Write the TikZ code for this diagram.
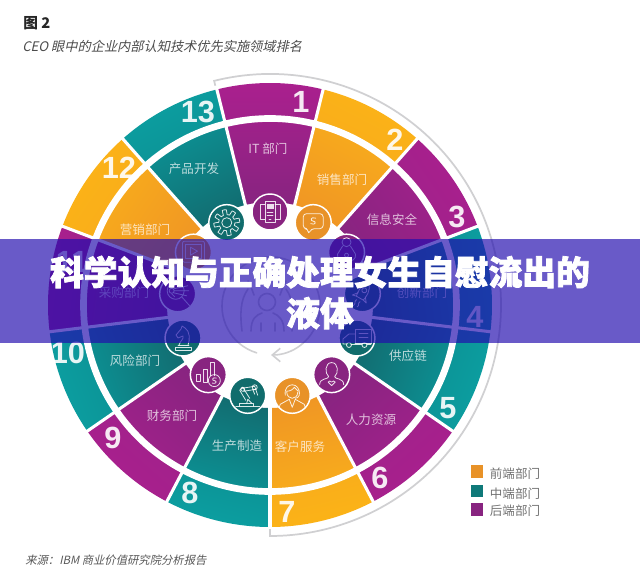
\documentclass[tikz,border=0pt]{standalone}
\usepackage{fontspec}
\usetikzlibrary{arrows.meta}
\newfontfamily\cjk{Noto Sans CJK SC}
\newfontfamily\cjkh[BoldFeatures={FakeBold=2.2}]{Noto Sans CJK SC}
\newfontfamily\cjki[FakeSlant=0.22]{Noto Sans CJK SC}
\newfontfamily\numf{Liberation Sans}
\definecolor{magOut}{RGB}{170,32,142}
\definecolor{magMid}{RGB}{160,33,138}
\definecolor{magIn}{RGB}{135,36,128}
\definecolor{magIc}{RGB}{136,36,128}
\definecolor{ambOut}{RGB}{252,180,22}
\definecolor{ambMid}{RGB}{248,172,28}
\definecolor{ambIn}{RGB}{240,150,36}
\definecolor{ambIc}{RGB}{232,146,40}
\definecolor{teaOut}{RGB}{12,160,162}
\definecolor{teaMid}{RGB}{12,145,148}
\definecolor{teaIn}{RGB}{18,108,112}
\definecolor{teaIc}{RGB}{16,108,108}
\definecolor{bannerc}{RGB}{34,12,174}
\definecolor{ringg}{RGB}{208,208,210}
\tikzset{
  lab/.style={font=\cjk\fontsize{9.4}{11}\selectfont,text=white,text opacity=.72,inner sep=0pt},
  num/.style={font=\numf\bfseries\fontsize{23}{23}\selectfont,text=white,text opacity=.9,inner sep=0pt},
  iconc/.style={circle,draw=white,line width=1.1pt,minimum size=27pt,inner sep=0pt},
  ic/.style={draw=white,draw opacity=.85,line width=.6pt,line join=round,line cap=round},
  legt/.style={font=\cjk\fontsize{9.4}{11}\selectfont,text=black!55,inner sep=0pt},
  legb/.style={minimum size=9.5pt,inner sep=0pt},
  person/.style={draw=ringg,line width=1.2pt,line cap=round}
}
\newcommand\iconphones{%
  \draw[ic] (-5,-10) rectangle (5,11);
  \draw[ic] (-5,-7) -- (-10,-7) -- (-10,8) -- (-5,8);
  \draw[ic] (5,-7) -- (10,-7) -- (10,8) -- (5,8);
  \fill[white,opacity=.85] (-3.5,3) rectangle (3.5,8);
  \draw[ic] (-3,0) -- (3,0) (-3,-3) -- (3,-3) (-1,-7) -- (1,-7);}
\newcommand\icongear{%
  \draw[ic] plot[domain=0:360,samples=145] (\x:{10.5+2.5*min(1,max(-1,3*sin(8*\x)))}) -- cycle;
  \draw[ic] (0,0) circle[radius=5];}
\newcommand\iconbubble{%
  \draw[ic,rounded corners=2.5] (-10,9) -- (10,9) -- (10,-6) -- (-2,-6) -- (-5,-12) -- (-5,-6) -- (-10,-6) -- cycle;
  \draw[ic] (2.5,4.5) .. controls (-3,6.5) and (-3,1.5) .. (0,1.5) .. controls (3,1.5) and (3,-3) .. (-2.5,-1);}
\newcommand\iconlock{%
  \draw[ic] (0,10) circle[radius=4.5];
  \draw[ic] (-4,6) -- (-9,-2) .. controls (-11,-12) and (11,-12) .. (9,-2) -- (4,6);
  \draw[ic] (0,-3) circle[radius=2];}
\newcommand\iconrocket{%
  \begin{scope}[rotate=-30]
  \draw[ic] (0,13) .. controls (6,7) and (5,-1) .. (4,-5) -- (-4,-5) .. controls (-5,-1) and (-6,7) .. (0,13) -- cycle;
  \draw[ic] (0,4) circle[radius=2.5];
  \draw[ic] (-4,-1) -- (-8,-6) -- (-4,-5) (4,-1) -- (8,-6) -- (4,-5);
  \draw[ic] (-2,-8) .. controls (-4,-11) and (0,-11) .. (-2,-15) (2,-8) .. controls (0,-11) and (4,-11) .. (2,-14);
  \end{scope}}
\newcommand\icontruck{%
  \draw[ic] (-2,-5) -- (-2,9) -- (14,9) -- (14,-5) -- (-2,-5);
  \draw[ic] (2,5) -- (11,5) (2,1) -- (11,1);
  \draw[ic] (-2,4) -- (-8,4) -- (-14,-1) -- (-14,-6) -- (-10,-6);
  \draw[ic] (-6,-6) -- (5,-6) (10,-6) -- (14,-6);
  \draw[ic] (-8,-7) circle[radius=2.5] (7.5,-7) circle[radius=2.5];}
\newcommand\iconperson{%
  \draw[ic] (0,12) .. controls (-7,12) and (-7,1) .. (-3,-2) .. controls (-3,-5) and (-12,-3) .. (-12,-10);
  \draw[ic] (0,12) .. controls (7,12) and (7,1) .. (3,-2) .. controls (3,-5) and (12,-3) .. (12,-10);
  \draw[ic] (0,-11) -- (-3.5,-7.5) .. controls (-3,-6) and (-1,-6) .. (0,-7.5) .. controls (1,-6) and (3,-6) .. (3.5,-7.5) -- cycle;}
\newcommand\iconservice{%
  \draw[ic] (-7,0) .. controls (-9,14) and (9,14) .. (7,0) .. controls (6,-2) and (5,-3) .. (3,-3);
  \draw[ic] (-6,4) .. controls (-2,4) and (1,6) .. (2,8) .. controls (4,6) and (5,5) .. (6,4);
  \draw[ic] (-5.5,3) .. controls (-5,-5) and (5,-5) .. (5.5,3);
  \draw[ic] (-3,-4) -- (-12,-9) -- (-13,-12) (3,-4) -- (12,-9) -- (13,-12);
  \draw[ic] (-3,-4) -- (0,-12) -- (3,-4);}
\newcommand\iconrobot{%
  \draw[ic] (-12,-11) -- (12,-11);
  \draw[ic] (-8,-11) -- (-8,-8) -- (6,-8) -- (6,-11);
  \draw[ic] (-1,-8) -- (0,-4) -- (4,-8);
  \draw[ic] (-2,-5) -- (-8,5) -- (-5,8) -- (2,-3);
  \draw[ic] (-6,7) -- (7,9) -- (8,6) -- (-4,4);
  \draw[ic] (-5,6) circle[radius=2] (7,8) circle[radius=2.5];
  \draw[ic] (8,6) -- (10,0) (5,6) -- (7,1);}
\newcommand\iconfinance{%
  \draw[ic] (-12,-7) rectangle (-8,0);
  \draw[ic] (-5,-8) rectangle (-1,5);
  \draw[ic] (2,-1) -- (2,12) -- (6,12) -- (6,-1);
  \draw[ic] (6,-6) circle[radius=6];
  \draw[ic] (8,-3.5) .. controls (4,-2) and (3,-6) .. (6,-6) .. controls (9,-6) and (8,-10) .. (4,-8.5);}
\newcommand\iconknight{%
  \draw[ic] (-8,-12) rectangle (8,-9);
  \draw[ic] (-5,-7) -- (6,-7);
  \draw[ic] (-4,-7) .. controls (-3,-3) and (1,-1) .. (0,2) -- (-5,0) -- (-7,3) -- (-2,9) -- (-1,12) -- (2,10) .. controls (7,7) and (7,-2) .. (5,-7);}
\newcommand\iconmag{%
  \draw[ic] (-2,3) circle[radius=8.5];
  \draw[ic] (4,-3) -- (12,-12);
  \draw[ic] (-6,3) circle[radius=2.5];
  \draw[ic] (-3.5,3) -- (11,3) (-4,5) -- (10,8) (-4,1) -- (9,-2);
  \draw[ic] (-6,0) -- (-3,-3) (-6,6) -- (-3,9);}
\newcommand\iconvideo{%
  \draw[ic,rounded corners=1.5] (-11,-10) rectangle (11,11);
  \draw[ic] (-8,-6) rectangle (8,8);
  \draw[ic] (-3,-3) -- (-3,5) -- (4,1) -- cycle;}
\begin{document}
\begin{tikzpicture}[x=.75pt,y=.75pt]
\useasboundingbox (0,0) rectangle (640,583);
\fill[white] (0,0) rectangle (640,583);
\begin{scope}[shift={(270,278)}]
  % wedges
  \foreach \i/\col in {1/mag,2/amb,3/mag,4/tea,5/tea,6/mag,7/amb,8/tea,9/mag,10/tea,11/mag,12/amb,13/tea}{
    \pgfmathsetmacro\cc{(\i-1)*27.6923}
    \pgfmathsetmacro\aa{90-\cc+13.846}
    \pgfmathsetmacro\bb{90-\cc-13.846}
    \pgfmathsetmacro\sa{-\cc}
    \shade[top color=\col Out,bottom color=\col Mid,shading angle=\sa]
      (\aa:222) arc[start angle=\aa,end angle=\bb,radius=222]
      -- (\bb:186) arc[start angle=\bb,end angle=\aa,radius=186] -- cycle;
    \shade[top color=\col Mid,bottom color=\col In,shading angle=\sa]
      (\aa:186) arc[start angle=\aa,end angle=\bb,radius=186]
      -- (\bb:103) arc[start angle=\bb,end angle=\aa,radius=103] -- cycle;
  }
  % separators
  \foreach \i in {1,...,13}{
    \pgfmathsetmacro\aa{90-(\i-1)*27.6923+13.846}
    \draw[white,line width=2.3pt] (\aa:100) -- (\aa:225);
  }
  \draw[white,line width=5pt] (0,0) circle[radius=186.5];
  % outer grey arc
  \draw[ringg,line width=1.3pt] (104:226) -- (104:231) arc[start angle=104,end angle=-90,radius=231] -- (-90:224);
  % centre figure
  \draw[person,-{Straight Barb[length=6pt,width=10pt]}] (1,-1) ++(253:49) arc[start angle=253,end angle=-90,radius=49];
  \draw[person] (-3,3) circle[radius=8.5];
  \draw[person] (-19,-26) .. controls (-19,-14) and (-14,-10) .. (-8,-8) (14,-26) .. controls (14,-14) and (8,-10) .. (3,-8);
  \draw[person] (-9,-26) -- (-9,-18) (5,-26) -- (5,-18);
  \draw[person] (-28,-26) .. controls (-30,-10) and (-30,5) .. (-22,16) (-16,10) .. controls (-18,16) and (-20,20) .. (-22,24);
  \draw[person] (22,-26) .. controls (24,-10) and (24,5) .. (16,16) (10,10) .. controls (12,16) and (14,20) .. (16,24);
  % icons
  \foreach \i/\col/\ic in {1/mag/phones,2/amb/bubble,3/mag/lock,4/tea/rocket,5/tea/truck,6/mag/person,7/amb/service,8/tea/robot,9/mag/finance,10/tea/knight,11/mag/mag,12/amb/video,13/tea/gear}{
    \pgfmathsetmacro\aa{90-(\i-1)*27.6923}
    \node[iconc,fill=\col Ic] (icon\i) at (\aa:93) {};
    \begin{scope}[shift={(icon\i.center)}]
      \csname icon\ic\endcsname
    \end{scope}
  }
\end{scope}
% department labels
\node[lab] (l1) at (268,{583-149}) {IT 部门};
\node[lab] (l2) at (342,{583-180}) {销售部门};
\node[lab] (l3) at (392,{583-220}) {信息安全};
\node[lab] (l4) at (422,{583-293}) {创新部门};
\node[lab] (l5) at (408,{583-356}) {供应链};
\node[lab] (l6) at (371,{583-420}) {人力资源};
\node[lab] (l7) at (300,{583-447}) {客户服务};
\node[lab] (l8) at (237,{583-446}) {生产制造};
\node[lab] (l9) at (172,{583-416}) {财务部门};
\node[lab] (l10) at (135,{583-361}) {风险部门};
\node[lab] (l11) at (124,{583-293}) {采购部门};
\node[lab] (l12) at (145,{583-230}) {营销部门};
\node[lab] (l13) at (194,{583-169}) {产品开发};
% rank numbers
\node[num] (n1) at (301,{583-102}) {1};
\node[num] (n2) at (395,{583-140}) {2};
\node[num] (n3) at (457,{583-217}) {3};
\node[num] (n4) at (475,{583-317}) {4};
\node[num] (n5) at (448,{583-408}) {5};
\node[num] (n6) at (380,{583-478}) {6};
\node[num] (n7) at (287,{583-512}) {7};
\node[num] (n8) at (190,{583-493}) {8};
\node[num] (n9) at (113,{583-438}) {9};
\node[num] (n10) at (68,{583-353}) {10};
\node[num] (n11) at (72,{583-262}) {11};
\node[num] (n12) at (119,{583-168}) {12};
\node[num] (n13) at (198,{583-112}) {13};
% legend
\node[legb,fill=ambIc] (b1) at (477,{583-471.5}) {};
\node[legb,fill=teaIc!75!teaOut] (b2) at (477,{583-491}) {};
\node[legb,fill=magIc] (b3) at (477,{583-509.5}) {};
\node[legt] (t1) at (515,{583-474}) {前端部门};
\node[legt] (t2) at (515,{583-494}) {中端部门};
\node[legt] (t3) at (515,{583-511}) {后端部门};
% titles
\node[anchor=west,inner sep=0pt,text=black!85,font=\cjk\bfseries\fontsize{11}{13}\selectfont] (fig) at (23,{583-23}) {图 2};
\node[anchor=west,inner sep=0pt,text=black!70,font=\cjki\fontsize{9.9}{12}\selectfont] (sub) at (22,{583-46}) {CEO 眼中的企业内部认知技术优先实施领域排名};
\node[anchor=west,inner sep=0pt,text=black!65,font=\cjki\fontsize{8.5}{10}\selectfont] (src) at (25,{583-560}) {来源：IBM 商业价值研究院分析报告};
% banner
\fill[bannerc,opacity=.68] (0,{583-239}) rectangle (640,{583-343});
\node[align=center,inner sep=0pt,text=white,font=\cjkh\bfseries\fontsize{25.3}{30.75}\selectfont] (head) at (320,{583-292.5}) {科学认知与正确处理女生自慰流出的\\液体};
\end{tikzpicture}
\end{document}
